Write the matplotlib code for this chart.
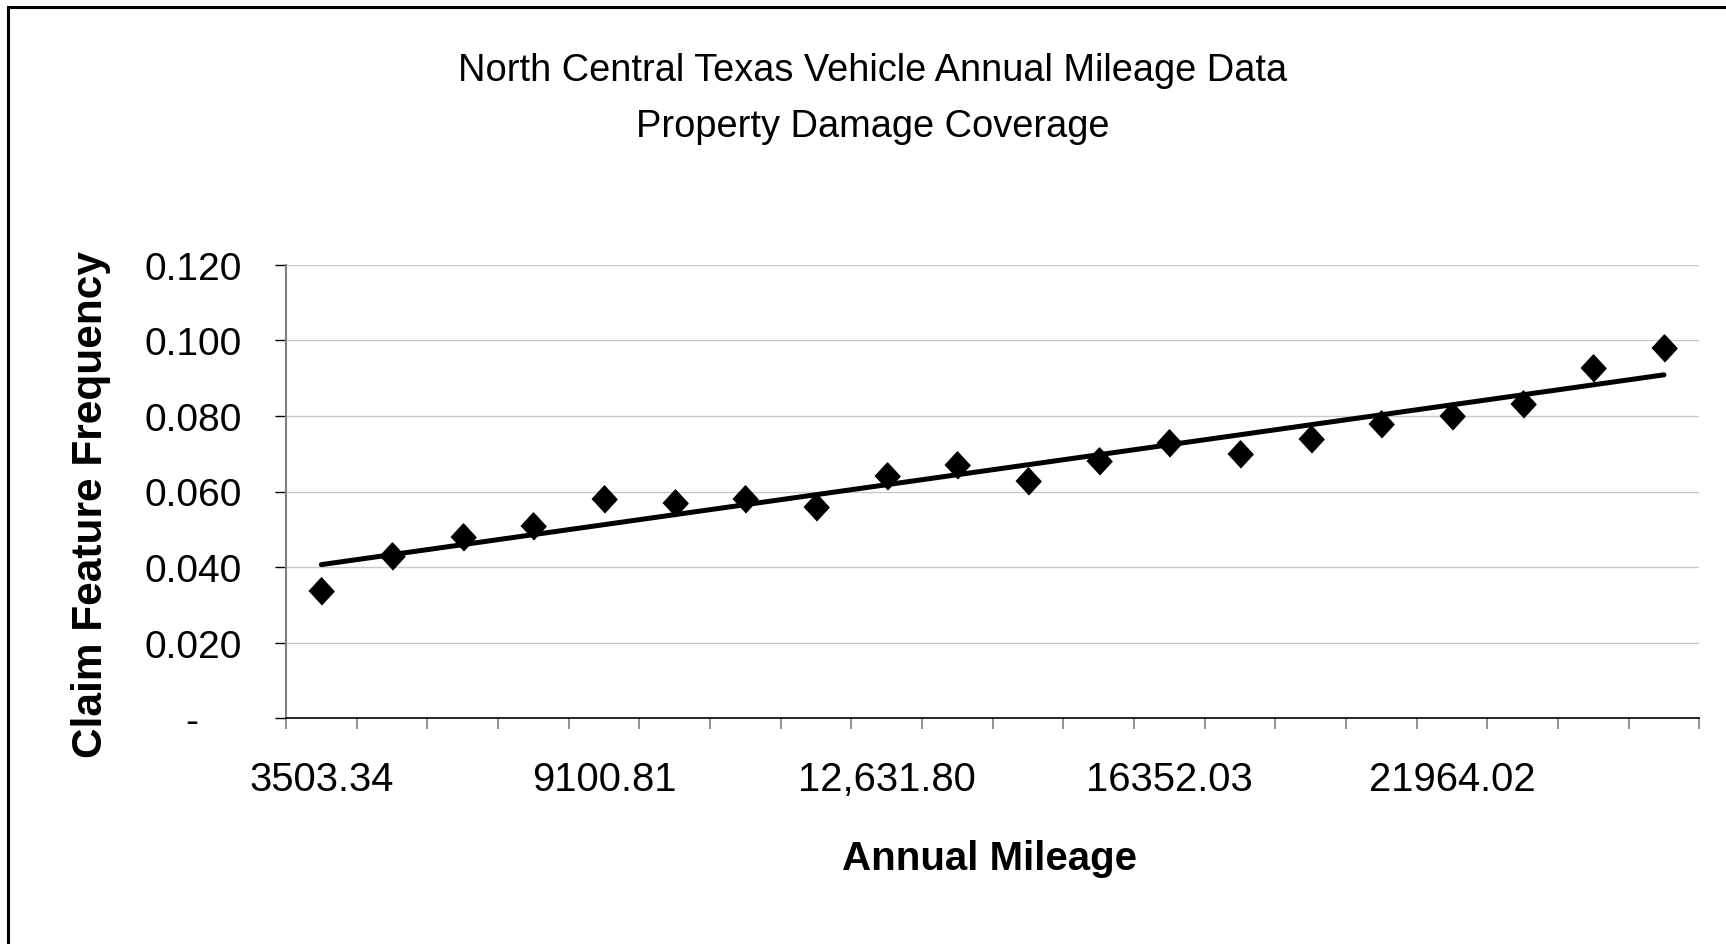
import numpy as np
import matplotlib
matplotlib.use("Agg")
import matplotlib.pyplot as plt
from matplotlib.patches import Rectangle

# claim feature frequency per annual mileage band (20 bands)
freq = [0.0337, 0.0430, 0.0480, 0.0510, 0.0580, 0.0570, 0.0580, 0.0560,
        0.0641, 0.0671, 0.0629, 0.0680, 0.0729, 0.0700, 0.0740, 0.0779,
        0.0800, 0.0831, 0.0926, 0.0979]
label_idx = [0, 4, 8, 12, 16]
mileage_labels = ["3503.34", "9100.81", "12,631.80", "16352.03", "21964.02"]
y_ticks = [0, 0.02, 0.04, 0.06, 0.08, 0.10, 0.12]
y_labels = ["-    ", "0.020", "0.040", "0.060", "0.080", "0.100", "0.120"]

plt.rcParams["font.family"] = ["Liberation Sans", "DejaVu Sans"]

W, H = 1726, 945
fig = plt.figure(figsize=(W / 100, H / 100), dpi=100)
ax = fig.add_axes([286 / W, 1 - 719.3 / H, 1413.3 / W, 453.6 / H])

x = np.arange(len(freq)) + 0.5
ax.plot(x, freq, ls="none", marker=[(-12, 0), (0, 13), (12, 0), (0, -13)],
        ms=19.5, color="black", zorder=3)

k, b = np.polyfit(x, freq, 1)
xx = np.array([x[0], x[-1]])
ax.plot(xx, k * xx + b, color="black", lw=3.6, solid_capstyle="round", zorder=4)

ax.set_xlim(0, len(freq))
ax.set_ylim(0, 0.12)

ax.set_yticks(y_ticks)
ax.set_yticklabels(y_labels, fontsize=28)
ax.tick_params(axis="y", length=8, width=1, color="black", pad=24)
ax.yaxis.grid(True, color="#c8c8c8", lw=1)
ax.set_axisbelow(True)

ax.set_xticks(np.arange(len(freq) + 1))
ax.set_xticklabels([])
ax.tick_params(axis="x", which="major", length=8, width=1.2, color="#808080")
ax.set_xticks([i + 0.5 for i in label_idx], minor=True)
ax.set_xticklabels(mileage_labels, minor=True, fontsize=28.8)
ax.tick_params(axis="x", which="minor", length=0, pad=30)

for s in ["top", "right"]:
    ax.spines[s].set_visible(False)
ax.spines["left"].set_color("#808080")
ax.spines["left"].set_linewidth(1.5)
ax.spines["bottom"].set_color("black")
ax.spines["bottom"].set_linewidth(1.2)

ax.set_xlabel("Annual Mileage", fontsize=29, fontweight="bold", va="center")
ax.xaxis.set_label_coords((989 - 286) / 1413.3, (719.3 - 859) / 453.6)
ax.set_ylabel("Claim Feature Frequency", fontsize=30.5, fontweight="bold",
              va="center", ha="center")
ax.yaxis.set_label_coords((91 - 286) / 1413.3, (719.3 - 505) / 453.6)

fig.text(873 / W, 1 - 71 / H, "North Central Texas Vehicle Annual Mileage Data",
         fontsize=27.4, ha="center", va="center")
fig.text(873 / W, 1 - 127 / H, "Property Damage Coverage",
         fontsize=27.4, ha="center", va="center")

fig.patches.append(Rectangle((8 / W, -0.1), 1.2, 1.1 - 8 / H, fill=False,
                             lw=2.2, edgecolor="black",
                             transform=fig.transFigure))

fig.savefig("out.png", dpi=100)
